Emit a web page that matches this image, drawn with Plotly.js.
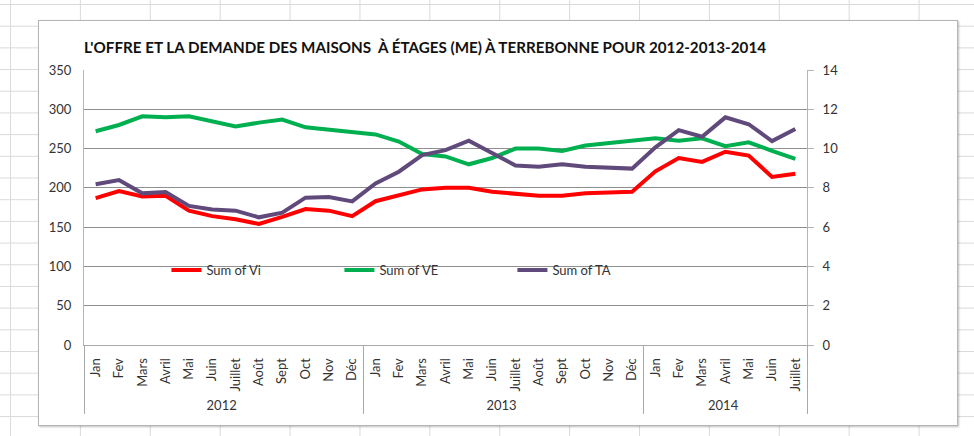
<!DOCTYPE html>
<html>
<head>
<meta charset="utf-8">
<script src="https://cdn.plot.ly/plotly-3.0.1.min.js"></script>
<style>
  html, body { margin: 0; padding: 0; }
  body {
    width: 974px; height: 436px; overflow: hidden; position: relative;
    background-color: #ffffff;
    background-image:
      linear-gradient(to right, #dadada 1px, transparent 1px),
      linear-gradient(to bottom, #dadada 1px, transparent 1px);
    background-size: 69.9px 21.7px;
    background-position: 10px 4px;
  }
  #wrap {
    position: absolute; left: 38px; top: 20px;
    width: 918px; height: 404px;
    border: 1px solid #b5b5b5;
    box-shadow: 1px 1px 2px rgba(0,0,0,0.25);
    background: #ffffff;
  }
  #chart { width: 918px; height: 404px; }
</style>
</head>
<body>
<div id="wrap"><div id="chart"></div></div>
<script>
// ---- data ----
const years = ["2012", "2013", "2014"];
const monthsPerYear = [12, 12, 7];
const months = ["Jan", "Fev", "Mars", "Avril", "Mai", "Juin", "Juillet", "Août", "Sept", "Oct", "Nov", "Déc"];

const vi = [187, 196, 189, 190, 171, 164, 160, 154, 163, 173, 171, 164,
            183, 191, 198, 200, 200, 195, 192, 190, 190, 193, 194, 195,
            221, 238, 233, 246, 241, 214, 218];
const ve = [272, 280, 291, 290, 291, 284, 278, 283, 287, 277, 274, 270,
            268, 259, 243, 240, 230, 238, 250, 250, 247, 254, 257, 260,
            263, 260, 263, 253, 258, 247, 237];
const ta = [8.18, 8.40, 7.72, 7.79, 7.08, 6.90, 6.84, 6.50, 6.74, 7.50, 7.53, 7.31,
            8.23, 8.82, 9.67, 9.92, 10.40, 9.76, 9.14, 9.08, 9.20, 9.08, 9.02, 8.98,
            10.06, 10.94, 10.60, 11.59, 11.24, 10.38, 11.00];

const seriesNames = ["Sum of Vi", "Sum of VE", "Sum of TA"];
const titleText = "L'OFFRE ET LA DEMANDE DES MAISONS  À ÉTAGES (ME) À TERREBONNE POUR 2012-2013-2014";

// ---- build multicategory x ----
const xYear = [], xMonth = [];
years.forEach((y, i) => {
  for (let m = 0; m < monthsPerYear[i]; m++) { xYear.push(y); xMonth.push(months[m]); }
});
const xCat = [xYear, xMonth];
const nCat = xMonth.length;

const font = "Lato, 'Open Sans', sans-serif";
const traces = [
  { x: xCat, y: vi, name: seriesNames[0], type: "scatter", mode: "lines",
    line: { color: "#ff0000", width: 4 }, yaxis: "y" },
  { x: xCat, y: ve, name: seriesNames[1], type: "scatter", mode: "lines",
    line: { color: "#00b050", width: 4 }, yaxis: "y" },
  { x: xCat, y: ta, name: seriesNames[2], type: "scatter", mode: "lines",
    line: { color: "#604a7b", width: 4 }, yaxis: "y2" }
];

const layout = {
  width: 918, height: 404,
  margin: { l: 45, r: 150, t: 49, b: 80, pad: 0 },
  paper_bgcolor: "#ffffff", plot_bgcolor: "#ffffff",
  font: { family: font, size: 13, color: "#333333" },
  title: {
    text: "<b>" + titleText + "</b>",
    font: { family: font, size: 15.2, color: "#111111" },
    xref: "paper", x: 0, xanchor: "left",
    yref: "container", y: 1 - 27 / 404, yanchor: "middle"
  },
  showlegend: true,
  legend: {
    orientation: "h", x: 0.114, xanchor: "left", y: 0.273, yanchor: "middle",
    bgcolor: "rgba(0,0,0,0)", font: { family: font, size: 13, color: "#333333" },
    entrywidth: 128, entrywidthmode: "pixels", itemwidth: 30
  },
  xaxis: {
    type: "multicategory", tickangle: -90, range: [-0.5, nCat - 0.5],
    showgrid: false, showline: true, linecolor: "#a9a9a9", linewidth: 1,
    ticks: "", showdividers: true, dividercolor: "#a9a9a9", dividerwidth: 1,
    tickfont: { family: font, size: 13, color: "#333333" },
    ticklabelstandoff: 7, fixedrange: true
  },
  yaxis: {
    range: [0, 350], dtick: 50, tick0: 0,
    showgrid: true, gridcolor: "#8f8f8f", gridwidth: 1,
    zeroline: false, showline: true, linecolor: "#b5b5b5", linewidth: 1,
    ticks: "", tickfont: { family: font, size: 13, color: "#333333" },
    ticklabelstandoff: 9, fixedrange: true
  },
  yaxis2: {
    overlaying: "y", side: "right", range: [0, 14], dtick: 2, tick0: 0,
    showgrid: false, zeroline: false, showline: true, linecolor: "#b5b5b5", linewidth: 1,
    ticks: "outside", ticklen: 6, tickcolor: "#b5b5b5",
    tickfont: { family: font, size: 13, color: "#333333" },
    ticklabelstandoff: 6, fixedrange: true
  }
};

Plotly.newPlot("chart", traces, layout, { displayModeBar: false, staticPlot: true });
</script>
</body>
</html>
